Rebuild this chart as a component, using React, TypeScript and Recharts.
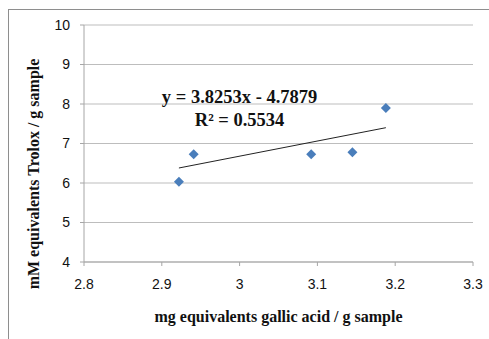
import React from 'react';
import {
  ScatterChart,
  Scatter,
  XAxis,
  YAxis,
  CartesianGrid,
  ReferenceLine,
  ReferenceDot,
  Label
} from 'recharts';

// measured points: mg GAE / g vs mM Trolox / g
const gallicAcid = [2.922, 2.941, 3.092, 3.145, 3.188];
const trolox = [6.03, 6.73, 6.73, 6.78, 7.9];

// linear trend line ends
const trendX = [2.922, 3.188];
const trendY = [6.38, 7.40];

const xTicks = [2.8, 2.9, 3, 3.1, 3.2, 3.3];
const yTicks = [4, 5, 6, 7, 8, 9, 10];

const equation = 'y = 3.8253x - 4.7879';
const rSquared = 'R² = 0.5534';

const points = gallicAcid.map((x, i) => ({ x, y: trolox[i] }));

const serif = '"Liberation Serif", "Times New Roman", serif';
const sans = '"Liberation Sans", Arial, sans-serif';

const Diamond = (props: any) => {
  const { cx, cy } = props;
  const r = 5;
  return (
    <polygon
      points={`${cx},${cy - r} ${cx + r},${cy} ${cx},${cy + r} ${cx - r},${cy}`}
      fill="#4a7ebb"
    />
  );
};

const App = () => {
  return (
    <div style={{ position: 'absolute', left: 0, top: 0, width: 489, height: 339, background: '#fff', overflow: 'hidden' }}>
      <div
        style={{
          position: 'absolute',
          left: 8,
          top: 9,
          width: 500,
          height: 340,
          borderLeft: '1px solid #8e8e8e',
          borderTop: '1px solid #8e8e8e'
        }}
      />
      <ScatterChart
        width={489}
        height={339}
        margin={{ top: 25, right: 16, bottom: 15, left: 24 }}
        style={{ position: 'absolute', left: 0, top: 0 }}
      >
        <CartesianGrid vertical={false} stroke="#bdbdbd" />
        <XAxis
          type="number"
          dataKey="x"
          domain={[2.8, 3.3]}
          ticks={xTicks}
          height={62}
          tickSize={4}
          tickMargin={13}
          stroke="#a6a6a6"
          tick={{ fill: '#111', fontSize: 14, fontFamily: sans }}
        >
          <Label
            value="mg equivalents gallic acid / g sample"
            position="insideBottom"
            offset={2}
            fill="#111"
            fontSize={16}
            fontWeight="bold"
            fontFamily={serif}
          />
        </XAxis>
        <YAxis
          type="number"
          dataKey="y"
          domain={[4, 10]}
          ticks={yTicks}
          width={60}
          tickSize={4}
          tickMargin={10}
          stroke="#a6a6a6"
          tick={{ fill: '#111', fontSize: 14, fontFamily: sans }}
        >
          <Label
            content={() => (
              <text
                x={33}
                y={174}
                transform="rotate(-90 33 174)"
                textAnchor="middle"
                dominantBaseline="central"
                fill="#111"
                fontSize={16}
                fontWeight="bold"
                fontFamily={serif}
              >
                mM equivalents Trolox / g sample
              </text>
            )}
          />
        </YAxis>
        <ReferenceLine
          segment={[
            { x: trendX[0], y: trendY[0] },
            { x: trendX[1], y: trendY[1] }
          ]}
          stroke="#222"
          strokeWidth={1}
        />
        <Scatter data={points} shape={Diamond} isAnimationActive={false} />
        <ReferenceDot
          x={3.0}
          y={8.2}
          r={0}
          fill="none"
          stroke="none"
          label={{ value: equation, position: 'center', fill: '#111', fontSize: 18.5, fontWeight: 'bold', fontFamily: serif }}
        />
        <ReferenceDot
          x={3.0}
          y={7.62}
          r={0}
          fill="none"
          stroke="none"
          label={{ value: rSquared, position: 'center', fill: '#111', fontSize: 18.5, fontWeight: 'bold', fontFamily: serif }}
        />
      </ScatterChart>
    </div>
  );
};

export default App;
